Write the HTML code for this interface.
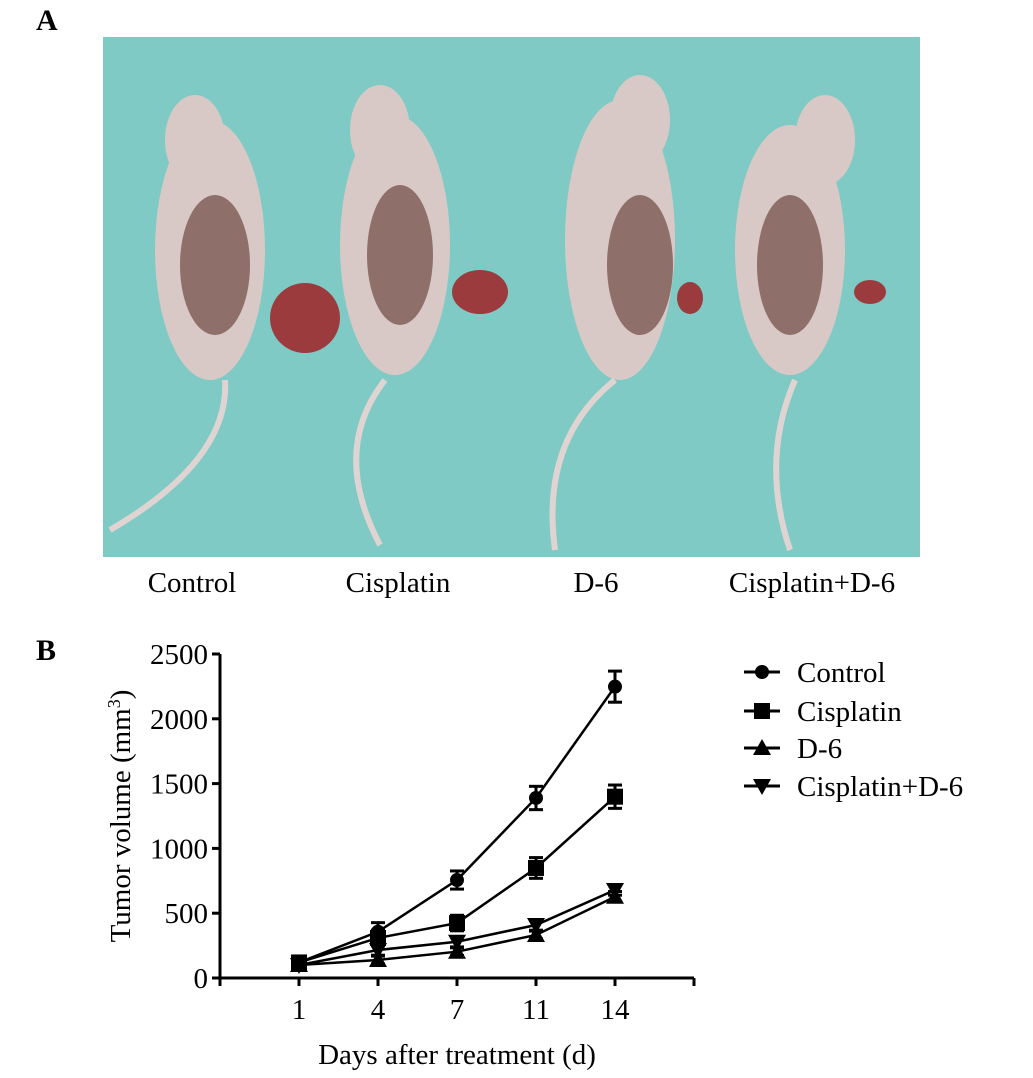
<!DOCTYPE html>
<html><head><meta charset="utf-8"><style>
body{margin:0;background:#fff;}
svg{display:block;font-family:"Liberation Serif",serif;}
</style></head><body>
<svg width="1033" height="1078" viewBox="0 0 1033 1078">
<text x="36" y="30" font-size="30" font-weight="bold">A</text>
<g>
<rect x="103" y="37" width="817" height="520" fill="#7fcac5"/>
<g fill="#d9c9c6">
<ellipse cx="210" cy="250" rx="55" ry="130"/><ellipse cx="395" cy="245" rx="55" ry="130"/>
<ellipse cx="620" cy="240" rx="55" ry="140"/><ellipse cx="790" cy="250" rx="55" ry="125"/>
<ellipse cx="195" cy="140" rx="30" ry="45"/><ellipse cx="380" cy="130" rx="30" ry="45"/>
<ellipse cx="640" cy="120" rx="30" ry="45"/><ellipse cx="825" cy="140" rx="30" ry="45"/>
</g>
<g fill="#8e6f6a">
<ellipse cx="215" cy="265" rx="35" ry="70"/><ellipse cx="400" cy="255" rx="33" ry="70"/>
<ellipse cx="640" cy="265" rx="33" ry="70"/><ellipse cx="790" cy="265" rx="33" ry="70"/>
</g>
<g fill="#9b3b3e">
<ellipse cx="305" cy="318" rx="35" ry="35"/><ellipse cx="480" cy="292" rx="28" ry="22"/>
<ellipse cx="690" cy="298" rx="13" ry="16"/><ellipse cx="870" cy="292" rx="16" ry="12"/>
</g>
<g stroke="#e0d4d2" stroke-width="6" fill="none">
<path d="M225 380 Q230 460 110 530"/><path d="M385 380 Q330 450 380 545"/>
<path d="M615 380 Q540 440 555 550"/><path d="M795 380 Q760 460 790 550"/>
</g>
</g>
<g font-size="29" text-anchor="middle">
<text x="192" y="592">Control</text>
<text x="398" y="592">Cisplatin</text>
<text x="596" y="592">D-6</text>
<text x="812" y="592">Cisplatin+D-6</text>
</g>
<text x="36" y="660" font-size="30" font-weight="bold">B</text>
<g id="chart"></g>
</svg>
<script>
const days=["1","4","7","11","14"];
const yTicks=[0,500,1000,1500,2000,2500];
const seriesNames=["Control","Cisplatin","D-6","Cisplatin+D-6"];
const controlVals=[120,357,756,1389,2248];
const controlErr=[40,70,70,90,120];
const cisplatinVals=[120,309,424,849,1399];
const cisplatinErr=[40,60,60,80,90];
const d6Vals=[100,139,203,332,627];
const d6Err=[30,30,30,30,40];
const comboVals=[100,216,280,409,679];
const comboErr=[30,40,40,40,40];
const NS="http://www.w3.org/2000/svg";
const g=document.getElementById('chart');
const x0=220,y0=978,yTop=654,step=79;
const X=i=>x0+step*(i+1);
const Y=v=>y0-(v/2500)*(y0-yTop);
function mk(t,a,p){const e=document.createElementNS(NS,t);for(const k in a)e.setAttribute(k,a[k]);(p||g).appendChild(e);return e;}
let e;
e=mk('line',{x1:x0,y1:yTop,x2:x0,y2:y0,stroke:'#000','stroke-width':3});


e=mk('line',{x1:x0,y1:y0,x2:x0+step*6,y2:y0,stroke:'#000','stroke-width':3});


yTicks.forEach(v=>{
 mk('line',{x1:x0-8,y1:Y(v),x2:x0,y2:Y(v),stroke:'#000','stroke-width':3});
 e=mk('text',{x:x0-12,y:Y(v)+10,'font-size':29,'text-anchor':'end'});e.textContent=v;
 
 
});
mk('line',{x1:x0,y1:y0,x2:x0,y2:y0+8,stroke:'#000','stroke-width':3});
mk('line',{x1:x0+step*6,y1:y0,x2:x0+step*6,y2:y0+8,stroke:'#000','stroke-width':3});
days.forEach((d,i)=>{
 mk('line',{x1:X(i),y1:y0,x2:X(i),y2:y0+8,stroke:'#000','stroke-width':3});
 e=mk('text',{x:X(i),y:y0+41,'font-size':29,'text-anchor':'middle'});e.textContent=d;
 
 
});
e=mk('text',{x:457,y:1064,'font-size':29,'text-anchor':'middle'});e.textContent='Days after treatment (d)';


e=mk('text',{transform:'translate(130,816) rotate(-90)','font-size':29,'text-anchor':'middle'});
e.innerHTML='Tumor volume (mm<tspan dy="-10" font-size="18">3</tspan><tspan dy="10">)</tspan>';


function marker(type,cx,cy,p){
 if(type==0)return mk('circle',{cx,cy,r:7,fill:'#000'},p);
 if(type==1)return mk('rect',{x:cx-8,y:cy-8,width:16,height:16,fill:'#000'},p);
 if(type==2)return mk('polygon',{points:`${cx},${cy-9} ${cx-9},${cy+7} ${cx+9},${cy+7}`,fill:'#000'},p);
 return mk('polygon',{points:`${cx},${cy+9} ${cx-9},${cy-7} ${cx+9},${cy-7}`,fill:'#000'},p);
}
const all=[[controlVals,controlErr],[cisplatinVals,cisplatinErr],[d6Vals,d6Err],[comboVals,comboErr]];
all.forEach(([vals,err],s)=>{
 const sg=mk('g',{});
 
 
 mk('polyline',{points:vals.map((v,i)=>X(i)+','+Y(v)).join(' '),fill:'none',stroke:'#000','stroke-width':2.5},sg);
 vals.forEach((v,i)=>{
  const t=Y(v+err[i]),b=Y(v-err[i]);
  mk('line',{x1:X(i),y1:t,x2:X(i),y2:b,stroke:'#000','stroke-width':3},sg);
  mk('line',{x1:X(i)-7,y1:t,x2:X(i)+7,y2:t,stroke:'#000','stroke-width':3},sg);
  mk('line',{x1:X(i)-7,y1:b,x2:X(i)+7,y2:b,stroke:'#000','stroke-width':3},sg);
  const m=marker(s,X(i),Y(v),sg);
  
  
 });
});
const ly=[672,711,748,786];
seriesNames.forEach((n,s)=>{
 const lg=mk('g',{});
 
 
 mk('line',{x1:744,y1:ly[s],x2:780,y2:ly[s],stroke:'#000','stroke-width':3},lg);
 marker(s,762,ly[s],lg);
 const t=mk('text',{x:797,y:ly[s]+10,'font-size':29},lg);t.textContent=n;
});
</script>
</body></html>
